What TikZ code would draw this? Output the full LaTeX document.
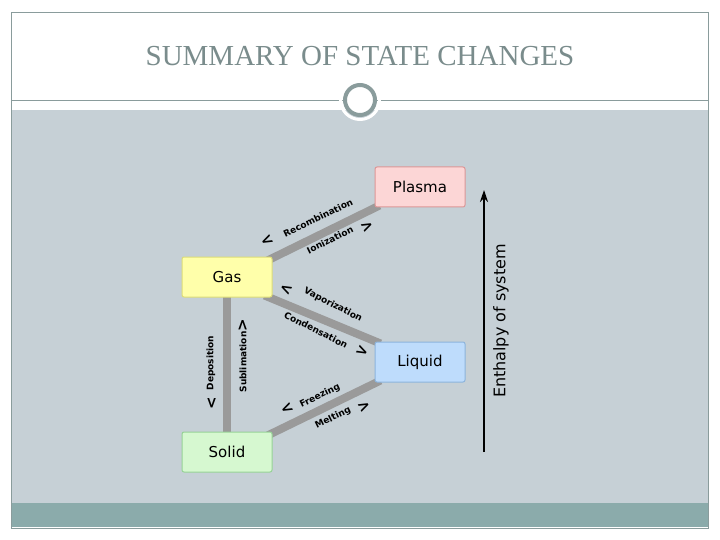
\documentclass[tikz,border=0pt]{standalone}
\usepackage{fontspec}
\setmainfont{DejaVu Sans}
\newfontfamily\titlefont{Liberation Serif}
\usetikzlibrary{arrows.meta,calc,backgrounds}
\definecolor{panel}{HTML}{C6D0D6}
\definecolor{band}{HTML}{8BABAB}
\definecolor{frame}{HTML}{8A9C9C}
\definecolor{tgray}{HTML}{7A8C8C}
\definecolor{conn}{HTML}{9A9A9A}
\tikzset{
 state/.style={rounded corners=2pt, minimum width=90pt, minimum height=40pt, line width=1pt, font=\fontsize{15}{15}\selectfont},
 link/.style={conn, line width=8pt},
 lab/.style={font=\fontsize{9}{9}\selectfont\bfseries, inner sep=1pt},
 chev/.style={font=\fontsize{15}{15}\selectfont\bfseries, inner sep=0pt}
}
\begin{document}
\begin{tikzpicture}[x=1pt,y=-1pt]
\useasboundingbox (0,0) rectangle (720,540);
\node[text=tgray, font=\titlefont\fontsize{29}{29}\selectfont] (title) at (360,56) {SUMMARY OF STATE CHANGES};

\node[state, fill={rgb,255:red,252;green,214;blue,214}, draw={rgb,255:red,220;green,150;blue,150}] (plasma) at (420,187) {Plasma};
\node[state, fill={rgb,255:red,255;green,255;blue,170}, draw={rgb,255:red,220;green,220;blue,120}] (gas) at (227,277) {Gas};
\node[state, fill={rgb,255:red,190;green,220;blue,252}, draw={rgb,255:red,140;green,180;blue,220}] (liquid) at (420,362) {Liquid};
\node[state, fill={rgb,255:red,214;green,248;blue,208}, draw={rgb,255:red,150;green,210;blue,150}] (solid) at (227,452) {Solid};

\begin{scope}[on background layer]
\fill[white] (0,0) rectangle (720,540);
\fill[panel] (11,110) rectangle (708,503);
\fill[band] (11,503) rectangle (708,527);
\draw[link] ($(gas.north east)+(-5,4)$) -- ($(plasma.south west)+(5,-2)$);
\draw[link] ($(gas.south east)+(-8,-2)$) -- ($(liquid.north west)+(6,2)$);
\draw[link] ($(gas.south)+(0,-1)$) -- ($(solid.north)+(0,1)$);
\draw[link] ($(solid.north east)+(-5,4)$) -- ($(liquid.south west)+(6,-2)$);
\end{scope}
\draw[frame, line width=0.8pt] (11,12) rectangle (708,528);
\draw[frame, line width=0.8pt] (11,100) -- (708,100);
\draw[white, line width=3pt] (360,100) circle (19.5);
\draw[frame, line width=4pt, fill=white] (360,100) circle (15);

% Gas-Plasma
\node[lab, rotate=26] (rec) at (318,218) {Recombination};
\node[chev, rotate=26] (rc) at (267,241) {<};
\node[lab, rotate=26] (ion) at (330,240) {Ionization};
\node[chev, rotate=26] (ic) at (367,227) {>};
% Gas-Liquid
\node[lab, rotate=-27] (vap) at (333,305) {Vaporization};
\node[chev, rotate=-27] (vc) at (286,289) {<};
\node[lab, rotate=-27] (con) at (316,330) {Condensation};
\node[chev, rotate=-27] (cc) at (362,351) {>};
% Gas-Solid
\node[lab, rotate=90] (dep) at (211,363) {Deposition};
\node[chev, rotate=90] (dc) at (212,403) {<};
\node[lab, rotate=90] (sub) at (243,362) {Sublimation};
\node[chev, rotate=90] (sc) at (243,325) {>};
% Solid-Liquid
\node[lab, rotate=26] (fre) at (320,396) {Freezing};
\node[chev, rotate=26] (fc) at (287,409) {<};
\node[lab, rotate=26] (mel) at (333,418) {Melting};
\node[chev, rotate=26] (mc) at (364,407) {>};

\coordinate (e0) at (484,452);
\coordinate (e1) at (484,190);
\draw[line width=1.8pt, -{Stealth[length=12pt,width=8pt]}] (e0) -- (e1);
\node[rotate=90, font=\fontsize{16}{16}\selectfont] (enth) at (501,321) {Enthalpy of system};
\end{tikzpicture}
\end{document}
